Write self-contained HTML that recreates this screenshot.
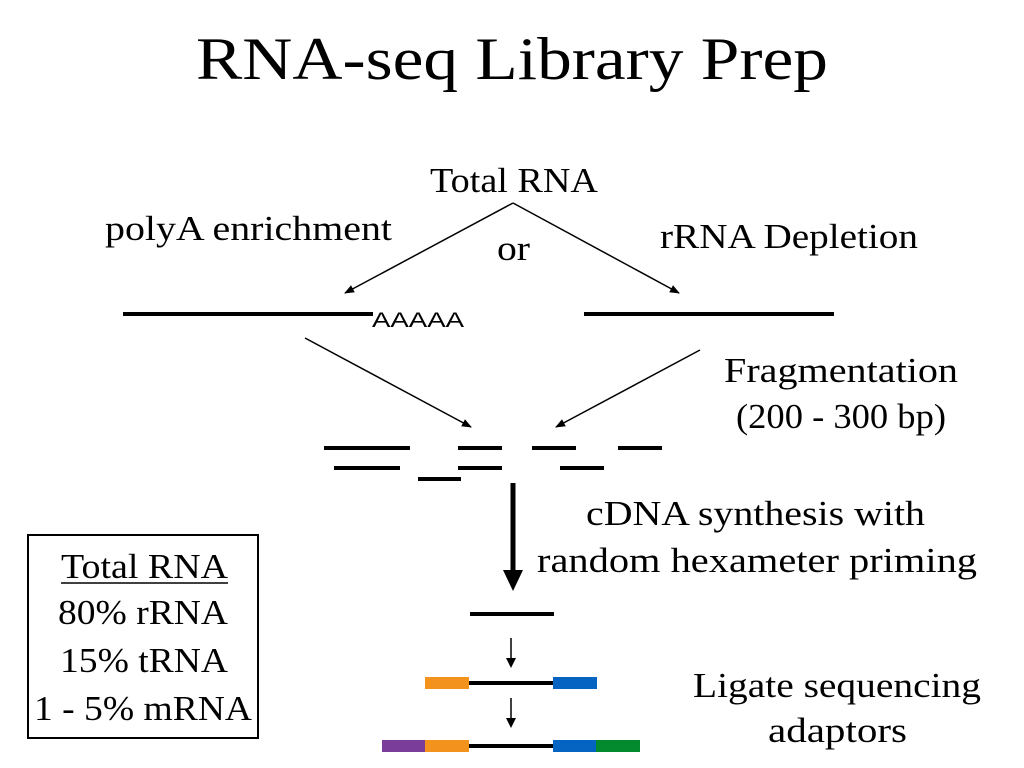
<!DOCTYPE html>
<html><head><style>html,body{margin:0;padding:0;background:#fff;}svg{display:block}</style></head>
<body>
<svg width="1024" height="768" viewBox="0 0 1024 768" xmlns="http://www.w3.org/2000/svg">
<defs>
<marker id="ah" markerWidth="10" markerHeight="8" refX="9" refY="4" orient="auto" markerUnits="userSpaceOnUse">
<path d="M0,0 L10,4 L0,8 Z" fill="#000"/></marker>
</defs>
<g font-family="'Liberation Serif', serif" fill="#000">
<text x="196" y="79" font-size="60" textLength="632" lengthAdjust="spacingAndGlyphs">RNA-seq Library Prep</text>
<text x="430" y="192" font-size="35" textLength="168" lengthAdjust="spacingAndGlyphs">Total RNA</text>
<text x="105" y="240" font-size="35" textLength="287" lengthAdjust="spacingAndGlyphs">polyA enrichment</text>
<text x="497" y="260" font-size="35" textLength="33" lengthAdjust="spacingAndGlyphs">or</text>
<text x="660" y="248" font-size="35" textLength="258" lengthAdjust="spacingAndGlyphs">rRNA Depletion</text>
<text x="724" y="382" font-size="35" textLength="234" lengthAdjust="spacingAndGlyphs">Fragmentation</text>
<text x="736" y="428" font-size="35" textLength="210" lengthAdjust="spacingAndGlyphs">(200 - 300 bp)</text>
<text x="586" y="525" font-size="35" textLength="339" lengthAdjust="spacingAndGlyphs">cDNA synthesis with</text>
<text x="537" y="572" font-size="35" textLength="440" lengthAdjust="spacingAndGlyphs">random hexameter priming</text>
<text x="693" y="697" font-size="35" textLength="288" lengthAdjust="spacingAndGlyphs">Ligate sequencing</text>
<text x="768" y="742" font-size="35" textLength="139" lengthAdjust="spacingAndGlyphs">adaptors</text>
<text x="61" y="578" font-size="35" textLength="167" lengthAdjust="spacingAndGlyphs">Total RNA</text>
<text x="58" y="624" font-size="35" textLength="170" lengthAdjust="spacingAndGlyphs">80% rRNA</text>
<text x="60" y="672" font-size="35" textLength="168" lengthAdjust="spacingAndGlyphs">15% tRNA</text>
<text x="34" y="720" font-size="35" textLength="218" lengthAdjust="spacingAndGlyphs">1 - 5% mRNA</text>
</g>
<text x="372" y="327" font-family="'Liberation Sans', sans-serif" font-size="21" textLength="92" lengthAdjust="spacingAndGlyphs">AAAAA</text>
<line x1="61" y1="583" x2="228" y2="583" stroke="#000" stroke-width="1.5"/>
<rect x="28" y="535" width="230" height="203" fill="none" stroke="#000" stroke-width="2"/>
<g stroke="#000" stroke-width="1.5" fill="none">
<line x1="513" y1="203" x2="345" y2="293" marker-end="url(#ah)"/>
<line x1="513" y1="203" x2="679" y2="293" marker-end="url(#ah)"/>
<line x1="305" y1="338" x2="471" y2="427" marker-end="url(#ah)"/>
<line x1="700" y1="350" x2="556" y2="427" marker-end="url(#ah)"/>
</g>
<g stroke="#000" stroke-width="4">
<line x1="123" y1="314" x2="373" y2="314"/>
<line x1="584" y1="314" x2="834" y2="314"/>
<line x1="324" y1="448" x2="410" y2="448"/>
<line x1="458" y1="448" x2="502" y2="448"/>
<line x1="532" y1="448" x2="576" y2="448"/>
<line x1="618" y1="448" x2="662" y2="448"/>
<line x1="334" y1="468" x2="400" y2="468"/>
<line x1="458" y1="468" x2="502" y2="468"/>
<line x1="560" y1="468" x2="604" y2="468"/>
<line x1="418" y1="479" x2="461" y2="479"/>
<line x1="470" y1="614" x2="554" y2="614"/>
<line x1="469" y1="683" x2="553" y2="683"/>
<line x1="425" y1="746" x2="553" y2="746"/>
</g>
<line x1="513" y1="483" x2="513" y2="572" stroke="#000" stroke-width="5"/>
<path d="M503,570 L523,570 L513,591 Z" fill="#000"/>
<line x1="511" y1="638" x2="511" y2="660" stroke="#000" stroke-width="1.5"/>
<path d="M506,658 L516,658 L511,668 Z" fill="#000"/>
<line x1="511" y1="698" x2="511" y2="720" stroke="#000" stroke-width="1.5"/>
<path d="M506,718 L516,718 L511,728 Z" fill="#000"/>
<rect x="425" y="677" width="44" height="12" fill="#f4921e"/>
<rect x="553" y="677" width="44" height="12" fill="#0563c1"/>
<rect x="382" y="740" width="43" height="12" fill="#7a3d9a"/>
<rect x="425" y="740" width="44" height="12" fill="#f4921e"/>
<rect x="553" y="740" width="43" height="12" fill="#0563c1"/>
<rect x="596" y="740" width="44" height="12" fill="#03892e"/>
</svg>
</body></html>
